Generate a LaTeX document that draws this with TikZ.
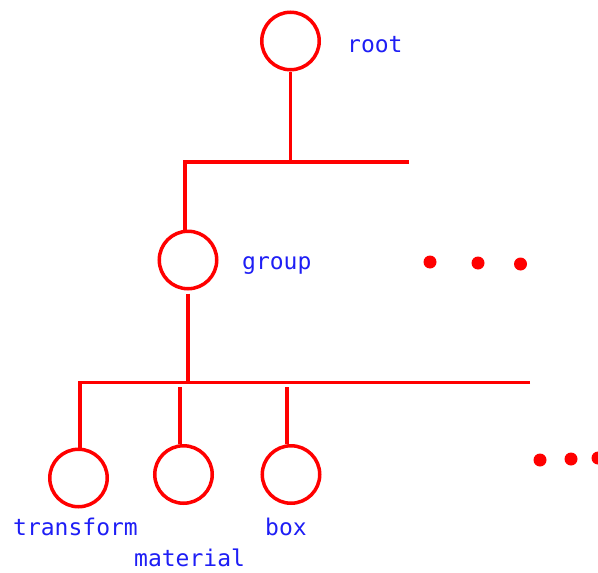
\documentclass[tikz,border=0pt]{standalone}
\usepackage{fontspec}
\newfontfamily\lblfont{DejaVu Sans Mono}
\definecolor{lblblue}{RGB}{30,30,245}
\begin{document}
\begin{tikzpicture}[x=1pt,y=-1pt,
  tn/.style={circle,draw=red,line width=3.5pt,minimum size=57.5pt,inner sep=0pt},
  wire/.style={draw=red,line width=3.5pt},
  dotn/.style={circle,fill=red,minimum size=13pt,inner sep=0pt},
  lab/.style={text=lblblue,anchor=base west,inner sep=0pt,font=\lblfont\fontsize{23}{25}\selectfont}]
\useasboundingbox (0,0) rectangle (598,573);
% tree nodes
\node[tn] (root) at (290.5,41) {};
\node[tn] (group) at (188,260) {};
\node[tn] (transform) at (78.5,478) {};
\node[tn] (material) at (183.5,474.5) {};
\node[tn] (box) at (291,474.5) {};
% labels
\node[lab] (lroot) at (347,52) {root};
\node[lab] (lgroup) at (242,269) {group};
\node[lab] (ltransform) at (13,535) {transform};
\node[lab] (lbox) at (265,535) {box};
\node[lab] (lmaterial) at (134,566) {material};
% bus coordinates
\coordinate (b1l) at (185,162);
\coordinate (b1r) at (409,162);
\coordinate (b2l) at (80,382.5);
\coordinate (b2r) at (530,382.5);
\coordinate (m1) at (180,387);
\coordinate (x1) at (287,387);
% connectors
\draw[wire] (root.south) -- (root.south |- b1l);
\draw[wire] (b1r) -- (b1l) -- (b1l |- group.north);
\draw[wire] ([yshift=-3pt]group.south) -- (group.south |- b2l);
\draw[wire] (b2r) -- (b2l) -- (b2l |- transform.north);
\draw[wire] (m1) -- (m1 |- material.north);
\draw[wire] (x1) -- (x1 |- box.north);
% ellipsis dots
\node[dotn] (d1) at (430,262) {};
\node[dotn] (d2) at (478,263) {};
\node[dotn] (d3) at (520.5,264) {};
\node[dotn] (d4) at (540,460) {};
\node[dotn] (d5) at (571,459) {};
\node[dotn] (d6) at (598,458) {};
\end{tikzpicture}
\end{document}
